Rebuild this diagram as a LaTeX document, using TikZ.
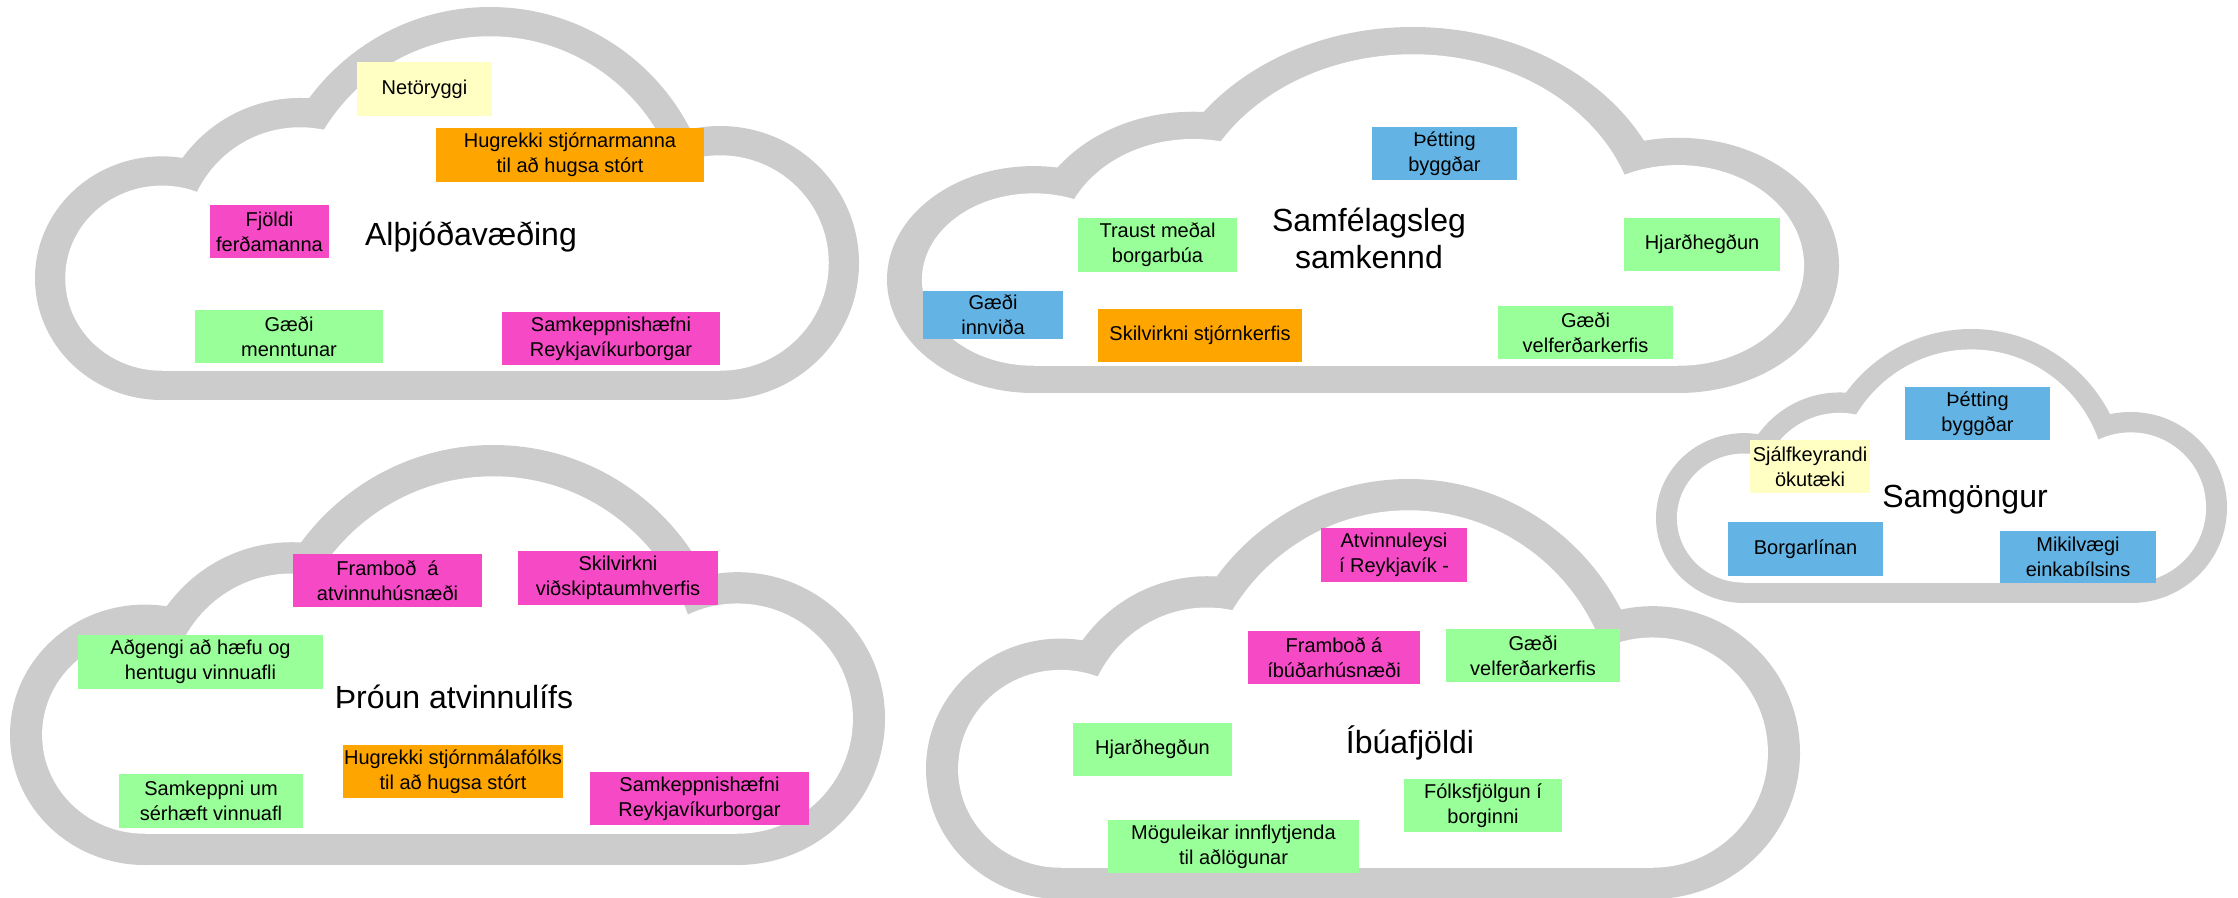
\documentclass[tikz,border=0pt]{standalone}
\usepackage{fontspec}
\setmainfont{Liberation Sans}
\definecolor{cloudgray}{RGB}{204,204,204}
\definecolor{stickyyellow}{RGB}{255,255,196}
\definecolor{stickyorange}{RGB}{255,165,0}
\definecolor{stickypink}{RGB}{245,73,198}
\definecolor{stickygreen}{RGB}{153,255,153}
\definecolor{stickyblue}{RGB}{99,180,228}
% cloud icon: #1,#2 = top-left of outer box, #3 = width, #4 = height
\newcommand\drawcloudicon[4]{%
  \begin{scope}[shift={(#1,#2)},x=#3pt,y=-#4pt]
    \fill[cloudgray] (0.1541,0.69) ellipse [x radius=0.1541,y radius=0.31];
    \fill[cloudgray] (0.3216,0.6005) ellipse [x radius=0.176,y radius=0.369];
    \begin{scope}
      \clip (-0.1,-0.1) rectangle (1.1,0.95);
      \fill[cloudgray] (0.5522,0.5725) ellipse [x radius=0.2731,y radius=0.5725];
    \end{scope}
    \fill[cloudgray] (0.8313,0.6514) ellipse [x radius=0.1687,y radius=0.3486];
    \fill[cloudgray] (0.1541,0.6) rectangle (0.8313,1);
    \fill[white] (0.1541,0.69) ellipse [x radius=0.1174,y radius=0.2355];
    \fill[white] (0.3216,0.6005) ellipse [x radius=0.1393,y radius=0.2945];
    \begin{scope}
      \clip (-0.1,-0.1) rectangle (1.1,0.9);
      \fill[white] (0.5522,0.5725) ellipse [x radius=0.2364,y radius=0.498];
    \end{scope}
    \fill[white] (0.8313,0.6514) ellipse [x radius=0.132,y radius=0.2741];
    \fill[white] (0.1541,0.6) rectangle (0.8313,0.9255);
  \end{scope}}
\tikzset{
  sticky/.style={inner sep=0pt,outer sep=0pt,align=center,text=black,
    font=\fontsize{20}{25}\selectfont},
  cloudtitle/.style={inner sep=0pt,align=center,text=black,
    font=\fontsize{32}{37}\selectfont},
  sz/.style 2 args={minimum width=#1pt,minimum height=#2pt},
}
\begin{document}
\begin{tikzpicture}[x=1pt,y=-1pt]
\fill[white] (0,0) rectangle (2238,897);
\useasboundingbox (0,0) rectangle (2238,897);

% clouds
\drawcloudicon{35}{7}{824}{393}
\drawcloudicon{887}{27}{952}{366}
\drawcloudicon{1656}{329}{571}{274}
\drawcloudicon{10}{445}{875}{420}
\drawcloudicon{926}{479}{874}{420}

% Cloud 1: Alþjóðavæðing
\node[sticky,fill=stickyyellow,sz={135}{54}] (n1) at (424.5,89) {Netöryggi};
\node[sticky,fill=stickyorange,sz={268}{54}] (n2) at (570,155) {Hugrekki stjórnarmanna\\til að hugsa stórt};
\node[sticky,fill=stickypink,sz={119}{53}] (n3) at (269.5,231.5) {Fjöldi\\ferðamanna};
\node[cloudtitle] (t1) at (471,237) {Alþjóðavæðing};
\node[sticky,fill=stickygreen,sz={188}{53}] (n4) at (289,336.5) {Gæði\\menntunar};
\node[sticky,fill=stickypink,sz={218}{53}] (n5) at (611,338.5) {Samkeppnishæfni\\Reykjavíkurborgar};

% Cloud 2: Samfélagsleg samkennd
\node[sticky,fill=stickyblue,sz={145}{53}] (m1) at (1444.5,153.5) {Þétting\\byggðar};
\node[sticky,fill=stickygreen,sz={159}{54}] (m2) at (1157.5,245) {Traust meðal\\borgarbúa};
\node[cloudtitle] (t2) at (1369,238.5) {Samfélagsleg\\samkennd};
\node[sticky,fill=stickygreen,sz={156}{53}] (m3) at (1702,244.5) {Hjarðhegðun};
\node[sticky,fill=stickyblue,sz={140}{48}] (m4) at (993,315) {Gæði\\innviða};
\node[sticky,fill=stickyorange,sz={204}{53}] (m5) at (1200,335.5) {Skilvirkni stjórnkerfis};
\node[sticky,fill=stickygreen,sz={175}{53}] (m6) at (1585.5,332.5) {Gæði\\velferðarkerfis};

% Cloud 3: Samgöngur
\node[sticky,fill=stickyblue,sz={145}{53}] (s1) at (1977.5,413.5) {Þétting\\byggðar};
\node[sticky,fill=stickyyellow,sz={120}{53}] (s2) at (1810,466.5) {Sjálfkeyrandi\\ökutæki};
\node[cloudtitle] (t3) at (1965,500) {Samgöngur};
\node[sticky,fill=stickyblue,sz={155}{54}] (s3) at (1805.5,549) {Borgarlínan};
\node[sticky,fill=stickyblue,sz={156}{52}] (s4) at (2078,557) {Mikilvægi\\einkabílsins};

% Cloud 4: Þróun atvinnulífs
\node[sticky,fill=stickypink,sz={189}{53}] (a1) at (387.5,580.5) {Framboð\ \ á\\atvinnuhúsnæði};
\node[sticky,fill=stickypink,sz={200}{54}] (a2) at (618,578) {Skilvirkni\\viðskiptaumhverfis};
\node[sticky,fill=stickygreen,sz={245}{54}] (a3) at (200.5,662) {Aðgengi að hæfu og\\hentugu vinnuafli};
\node[cloudtitle] (t4) at (454,697) {Þróun atvinnulífs};
\node[sticky,fill=stickyorange,sz={220}{53}] (a4) at (453,771.5) {Hugrekki stjórnmálafólks\\til að hugsa stórt};
\node[sticky,fill=stickygreen,sz={184}{54}] (a5) at (211,801) {Samkeppni um\\sérhæft vinnuafl};
\node[sticky,fill=stickypink,sz={219}{53}] (a6) at (699.5,798.5) {Samkeppnishæfni\\Reykjavíkurborgar};

% Cloud 5: Íbúafjöldi
\node[sticky,fill=stickypink,sz={146}{54}] (b1) at (1394,555) {Atvinnuleysi\\í Reykjavík -};
\node[sticky,fill=stickypink,sz={172}{53}] (b2) at (1334,657.5) {Framboð á\\íbúðarhúsnæði};
\node[sticky,fill=stickygreen,sz={174}{53}] (b3) at (1533,655.5) {Gæði\\velferðarkerfis};
\node[sticky,fill=stickygreen,sz={159}{53}] (b4) at (1152.5,749.5) {Hjarðhegðun};
\node[cloudtitle] (t5) at (1410,743) {Íbúafjöldi};
\node[sticky,fill=stickygreen,sz={158}{53}] (b5) at (1483,805.5) {Fólksfjölgun í\\borginni};
\node[sticky,fill=stickygreen,sz={251}{53}] (b6) at (1233.5,846.5) {Möguleikar innflytjenda\\til aðlögunar};
\end{tikzpicture}
\end{document}
